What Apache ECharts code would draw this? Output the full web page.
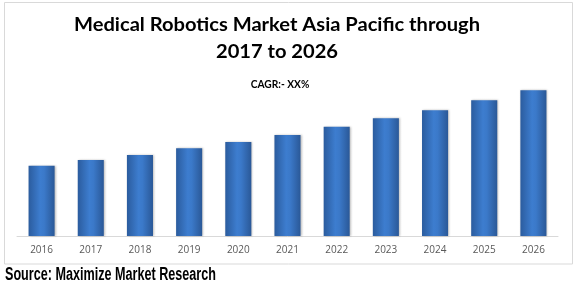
<!DOCTYPE html>
<html>
<head>
<meta charset="utf-8">
<script src="https://cdn.jsdelivr.net/npm/echarts@6/dist/echarts.min.js"></script>
<style>
  html, body { margin: 0; padding: 0; background: #fff; }
  #chart { width: 579px; height: 285px; }
</style>
</head>
<body>
<div id="chart"></div>
<script>
// years and bar values (arbitrary units, no y axis shown)
const years = ['2016', '2017', '2018', '2019', '2020', '2021', '2022', '2023', '2024', '2025', '2026']
const marketValues = [70.3, 76, 81, 87.7, 94, 101, 109.3, 117.7, 125.7, 135.7, 145.7]

const titleLine1 = 'Medical Robotics Market Asia Pacific through'
const titleLine2 = '2017 to 2026'
const cagrText = 'CAGR:- XX%'
const sourceText = 'Source: Maximize Market Research'

// measure text so it can be squeezed to the width seen in the picture
const measureCtx = document.createElement('canvas').getContext('2d')
function fitScale(text, font, width) {
  measureCtx.font = font
  return width / measureCtx.measureText(text).width
}

const titleFont = 'bold 19px Lato'
const titleScale = fitScale(titleLine1, titleFont, 406)
const cagrFont = 'bold 12px Lato'
const sourceFont = 'bold 18px "Liberation Sans"'

const chart = echarts.init(document.getElementById('chart'), null, { renderer: 'canvas' })

const barColor = new echarts.graphic.LinearGradient(0, 0, 1, 0, [
  { offset: 0, color: '#2b5c9e' },
  { offset: 0.45, color: '#3d7dcf' },
  { offset: 0.6, color: '#3b79c9' },
  { offset: 1, color: '#2a5897' }
])

function textEl(text, font, x, y, align, scaleX) {
  return {
    type: 'text',
    x: x,
    y: y,
    scaleX: scaleX,
    silent: true,
    style: {
      text: text,
      font: font,
      fill: '#000',
      textAlign: align,
      textVerticalAlign: 'middle',
      verticalAlign: 'middle'
    }
  }
}

const option = {
  animation: false,
  backgroundColor: '#fff',
  graphic: [
    {
      type: 'rect',
      shape: { x: 4.5, y: 2.5, width: 568, height: 261.5 },
      style: { fill: 'none', stroke: '#d9d9d9', lineWidth: 1 },
      silent: true
    },
    textEl(titleLine1, titleFont, 277, 25, 'center', titleScale),
    textEl(titleLine2, titleFont, 277, 52, 'center', titleScale),
    textEl(cagrText, cagrFont, 280, 84.5, 'center', fitScale(cagrText, cagrFont, 58.6)),
    textEl(sourceText, sourceFont, 5, 275.5, 'left', fitScale(sourceText, sourceFont, 211))
  ],
  grid: {
    left: 17,
    right: 21,
    top: 90,
    bottom: 49
  },
  xAxis: {
    type: 'category',
    data: years,
    axisLine: { lineStyle: { color: '#d9d9d9', width: 1 } },
    axisTick: { show: false },
    axisLabel: {
      color: '#595959',
      fontFamily: 'Open Sans',
      fontSize: 10,
      margin: 9
    }
  },
  yAxis: {
    type: 'value',
    min: 0,
    max: 146,
    show: false,
    splitLine: { show: false }
  },
  series: [
    {
      type: 'bar',
      data: marketValues,
      barWidth: '53%',
      itemStyle: {
        color: barColor,
        shadowColor: 'rgba(0,0,0,0.25)',
        shadowBlur: 2,
        shadowOffsetX: 1
      }
    }
  ]
}

chart.setOption(option)
</script>
</body>
</html>
